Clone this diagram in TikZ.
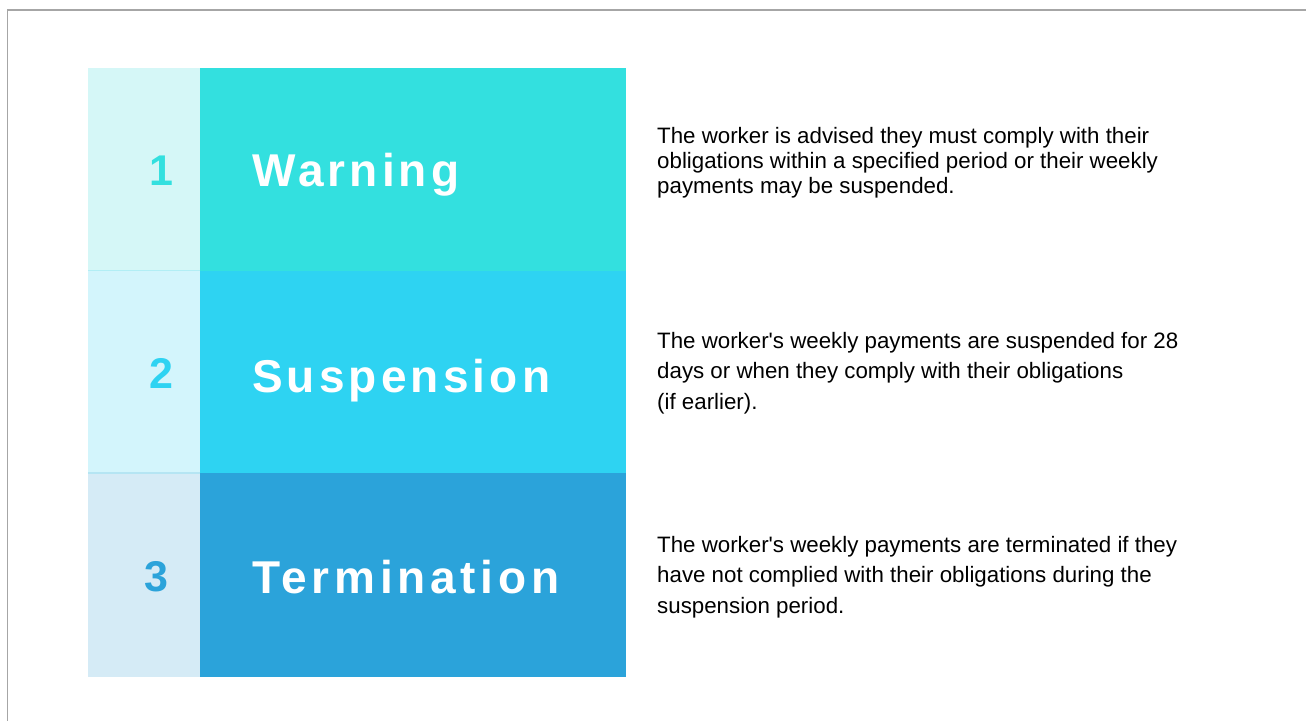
\documentclass[tikz,border=0pt]{standalone}
\usepackage{fontspec}
\setmainfont{Liberation Sans}[Ligatures=TeXOff]
\newfontfamily\ttlfont[LetterSpace=9]{Liberation Sans}
\newfontfamily\ttlfontwide[LetterSpace=10.3]{Liberation Sans}
\definecolor{cA}{HTML}{33E0DF}
\definecolor{cB}{HTML}{2ED3F2}
\definecolor{cC}{HTML}{2BA3DA}
\definecolor{lA}{HTML}{D5F7F7}
\definecolor{lB}{HTML}{D3F5FC}
\definecolor{lC}{HTML}{D5EBF6}
\definecolor{sepA}{HTML}{B2EEF5}
\definecolor{sepB}{HTML}{B5E5F3}
\definecolor{frame}{HTML}{A6A6A6}
\tikzset{
  num/.style={inner sep=0pt, anchor=base, font=\fontsize{43}{43}\selectfont\bfseries},
  ttl/.style={inner sep=0pt, anchor=base west, text=white, font=\ttlfont\fontsize{46}{46}\selectfont\bfseries},
  ttlwide/.style={ttl, font=\ttlfontwide\fontsize{46}{46}\selectfont\bfseries},
  descA/.style={inner sep=0pt, anchor=north west, align=left, text=black, font=\fontsize{22.3}{25}\selectfont},
  descB/.style={inner sep=0pt, anchor=north west, align=left, text=black, font=\fontsize{22.3}{30.5}\selectfont},
}
\begin{document}
\begin{tikzpicture}[x=1pt,y=-1pt]
\useasboundingbox (0,0) rectangle (1306,720);
\fill[white] (0,0) rectangle (1306,720);
% frame
\draw[frame, line width=1.3pt] (7.3,721) -- (7.3,10) -- (1306,10);
% row 1
\fill[lA] (88,68) rectangle (200,270.5);
\fill[cA] (200,68) rectangle (626,270.5);
% row 2
\fill[lB] (88,270.5) rectangle (200,473);
\fill[cB] (200,270.5) rectangle (626,473);
% row 3
\fill[lC] (88,473) rectangle (200,677);
\fill[cC] (200,473) rectangle (626,677);
% separators
\draw[sepA, line width=1.5pt] (88,270.5) -- (200,270.5);
\draw[sepB, line width=1.5pt] (88,473) -- (200,473);
% numbers
\node[num, text=cA] (n1) at (161,185) {1};
\node[num, text=cB] (n2) at (161,388) {2};
\node[num, text=cC] (n3) at (156,591) {3};
% titles
\node[ttl] (t1) at (252,186) {Warning};
\node[ttl] (t2) at (252,392) {Suspension};
\node[ttlwide] (t3) at (252,593) {Termination};
% descriptions
\node[descA] (d1) at (657,127.5) {The worker is advised they must comply with their\\obligations within a specified period or their weekly\\payments may be suspended.};
\node[descB] (d2) at (657,331.8) {The worker's weekly payments are suspended for 28\\days or when they comply with their obligations\\(if earlier).};
\node[descB] (d3) at (657,535.8) {The worker's weekly payments are terminated if they\\have not complied with their obligations during the\\suspension period.};
\end{tikzpicture}
\end{document}
